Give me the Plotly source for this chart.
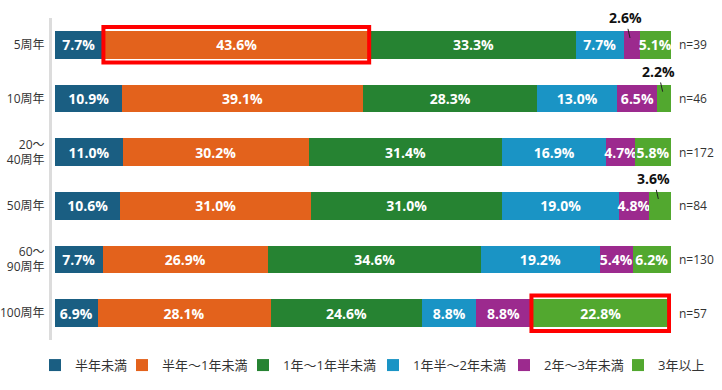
import plotly.graph_objects as go

categories = ["5周年", "10周年", "20～<br>40周年", "50周年", "60～<br>90周年", "100周年"]
series_names = ["半年未満", "半年～1年未満", "1年～1年半未満", "1年半～2年未満", "2年～3年未満", "3年以上"]
colors = ["#1a5e82", "#e3621c", "#268332", "#1a94c5", "#9c2a8e", "#52a82f"]
values = [
    [7.7, 10.9, 11.0, 10.6, 7.7, 6.9],
    [43.6, 39.1, 30.2, 31.0, 26.9, 28.1],
    [33.3, 28.3, 31.4, 31.0, 34.6, 24.6],
    [7.7, 13.0, 16.9, 19.0, 19.2, 8.8],
    [2.6, 6.5, 4.7, 4.8, 5.4, 8.8],
    [5.1, 2.2, 5.8, 3.6, 6.2, 22.8],
]
n_labels = ["n=39", "n=46", "n=172", "n=84", "n=130", "n=57"]
# small segments labelled outside with a leader line: (series index, category index)
outside = [(4, 0), (5, 1), (5, 3)]
# highlighted segments: (series index, category index)
highlights = [(1, 0), (5, 5)]
# left edge (paper fraction) of each legend entry
legend_x = [-0.0275, 0.1131, 0.3086, 0.5186, 0.7302, 0.9144]

FONT = "Open Sans, Noto Sans CJK JP, sans-serif"

fig = go.Figure()
for s, name in enumerate(series_names):
    texts = []
    for c in range(len(categories)):
        v = values[s][c]
        texts.append("" if (s, c) in outside else f"<b>{v:.1f}%</b>")
    lg = "legend" if s == 0 else f"legend{s + 1}"
    fig.add_trace(go.Bar(
        y=categories, x=values[s], name=name, orientation="h",
        marker=dict(color=colors[s], line=dict(width=0)),
        text=texts, textposition="inside", insidetextanchor="middle",
        textfont=dict(color="white", size=14, family=FONT),
        constraintext="none", cliponaxis=False,
        hoverinfo="skip", legend=lg,
    ))

def cum_start(s, c):
    return sum(values[k][c] for k in range(s))

for s, c in outside:
    x0 = cum_start(s, c)
    xc = x0 + values[s][c] / 2
    fig.add_annotation(
        x=xc, y=categories[c], xref="x", yref="y",
        text=f"<b>{values[s][c]:.1f}%</b>", showarrow=True,
        arrowhead=0, arrowwidth=1, arrowcolor="#222",
        ax=-6, ay=-27, standoff=7,
        font=dict(color="#111", size=14, family=FONT),
    )

for c, lab in enumerate(n_labels):
    fig.add_annotation(
        x=100, y=categories[c], xref="x", yref="y", xanchor="left",
        xshift=6, text=lab, showarrow=False,
        font=dict(color="#333", size=12, family=FONT),
    )

for s, c in highlights:
    x0 = cum_start(s, c)
    x1 = x0 + values[s][c]
    fig.add_shape(
        type="rect", xref="x", yref="y",
        x0=x0 + 0.15, x1=x1 - 0.3, y0=c - 0.33, y1=c + 0.33,
        line=dict(color="#ff0000", width=4), fillcolor="rgba(0,0,0,0)",
    )

legend_common = dict(orientation="h", xanchor="left", y=-0.078, yanchor="middle",
                     font=dict(size=13, color="#333", family=FONT),
                     bgcolor="rgba(0,0,0,0)", itemclick=False, itemdoubleclick=False)
layout_legends = {}
for s in range(len(series_names)):
    key = "legend" if s == 0 else f"legend{s + 1}"
    layout_legends[key] = dict(legend_common, x=legend_x[s])

fig.update_layout(
    barmode="stack", bargap=0.48,
    width=722, height=390,
    margin=dict(l=52, r=51, t=18, b=50, autoexpand=False),
    plot_bgcolor="white", paper_bgcolor="white",
    font=dict(family=FONT, color="#333", size=12),
    showlegend=True,
    uniformtext=dict(mode="show", minsize=14),
    xaxis=dict(range=[-0.5, 100.01], visible=False, fixedrange=True),
    yaxis=dict(autorange="reversed", showline=True, linecolor="#dcdcdc", linewidth=3,
               showgrid=False, ticks="", ticklabelstandoff=2, automargin=False,
               tickfont=dict(size=12, color="#333", family=FONT)),
    **layout_legends,
)

# remove the default 8px page margin so the 722x390 figure fills the window exactly
fig.write_html("out.html", config={"displayModeBar": False},
               post_script="document.body.style.margin='0';")
